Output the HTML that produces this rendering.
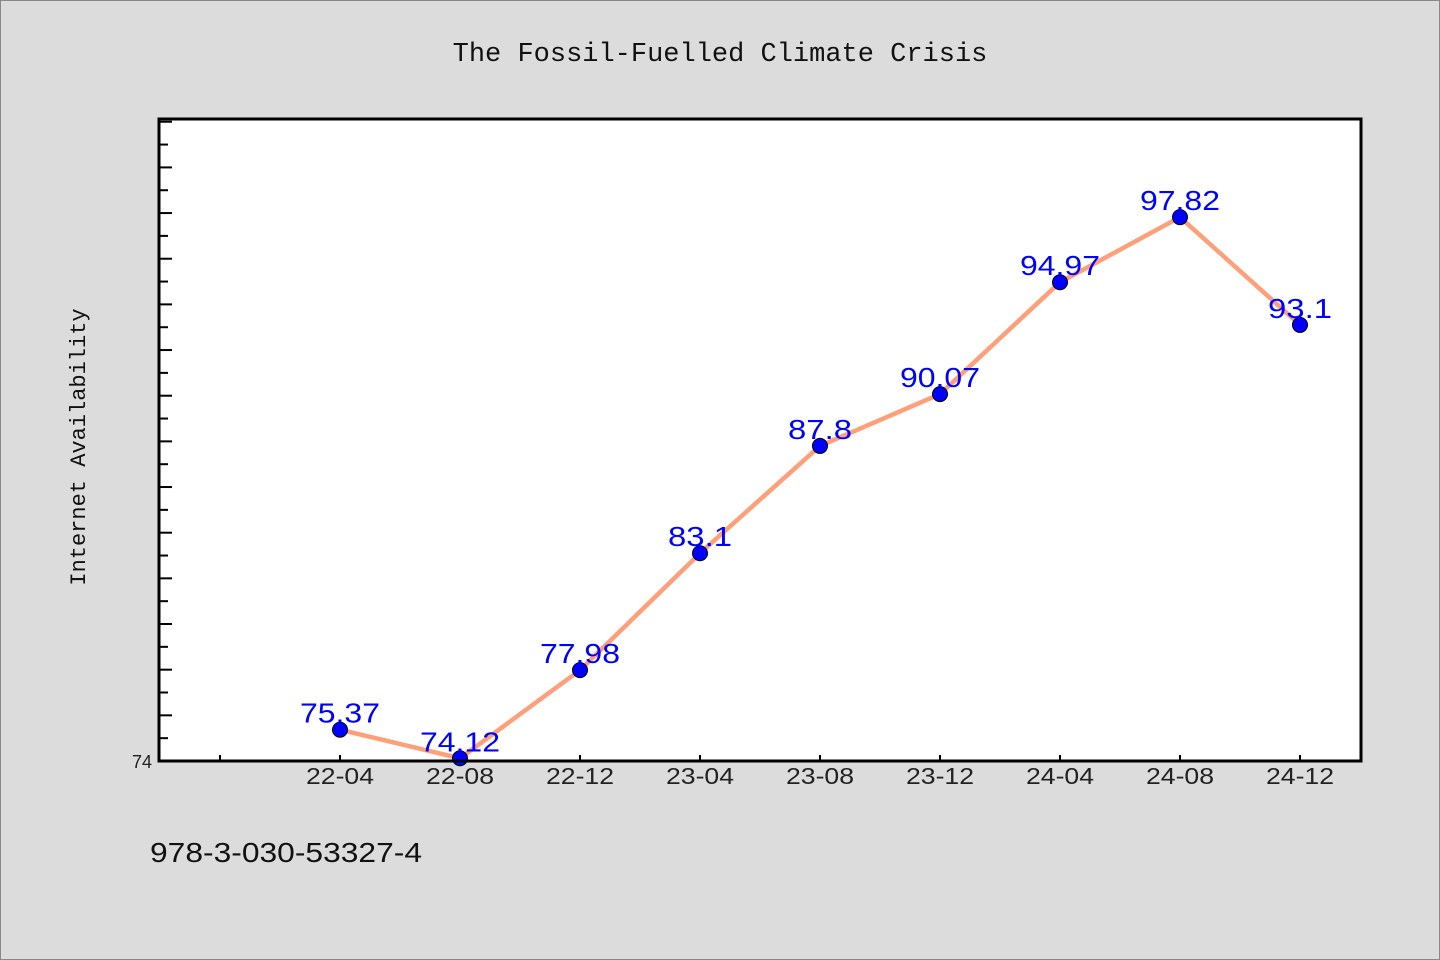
<!DOCTYPE html>
<html><head><meta charset="utf-8"><style>
html,body{margin:0;padding:0;background:#dcdcdc;}
svg{display:block;font-family:"Liberation Sans",sans-serif;}
</style></head><body>
<svg width="1440" height="960">
<rect x="0.5" y="0.5" width="1439" height="959" fill="#dcdcdc" stroke="#888"/>
<text x="720" y="61" text-anchor="middle" font-family="Liberation Mono, monospace" font-size="27" fill="#111">The Fossil-Fuelled Climate Crisis</text>
<text transform="translate(85,447) rotate(-90)" text-anchor="middle" font-family="Liberation Mono, monospace" font-size="22" fill="#111">Internet Availability</text>
<rect x="159" y="119" width="1202" height="642" fill="#fff"/>
<g id="ticks"></g>
<polyline id="line" fill="none" stroke="#ffa07a" stroke-width="4.5"/>
<g id="marks"></g>
<rect x="159" y="119" width="1202" height="642" fill="none" stroke="#000" stroke-width="3"/>
<text x="150" y="862" font-size="28" textLength="272" lengthAdjust="spacingAndGlyphs" fill="#111">978-3-030-53327-4</text>
</svg>
<script>
const categories=["22-04","22-08","22-12","23-04","23-08","23-12","24-04","24-08","24-12"];
const values=[75.37,74.12,77.98,83.1,87.8,90.07,94.97,97.82,93.1];
const valueLabels=["75.37","74.12","77.98","83.1","87.8","90.07","94.97","97.82","93.1"];
const yMin=74,yMax=102.12;
const ns="http://www.w3.org/2000/svg";
function xs(i){return 340+(i)*120;}
function ys(v){return 761-(v-yMin)/(yMax-yMin)*642;}
function mk(t,a,p){const e=document.createElementNS(ns,t);for(const k in a)e.setAttribute(k,a[k]);p.appendChild(e);return e;}
const tg=document.getElementById('ticks'),mg=document.getElementById('marks');
for(let v=75;v<yMax;v++){const y=ys(v);const l=mk('line',{x1:159,x2:(v%2==0)?172:168,y1:y,y2:y,stroke:'#000','stroke-width':2},tg);

}
const t0=mk('text',{x:152,y:768,'text-anchor':'end','font-size':18,fill:'#222'},tg);t0.textContent="74";


for(let i=-1;i<categories.length;i++){const x=xs(i);const l=mk('line',{x1:x,x2:x,y1:761,y2:755,stroke:'#000','stroke-width':2},tg);


if(i>=0){const t=mk('text',{x:x,y:784,'text-anchor':'middle','font-size':23,textLength:68,lengthAdjust:'spacingAndGlyphs',fill:'#222'},tg);t.textContent=categories[i];

}}
document.getElementById('line').setAttribute('points',values.map((v,i)=>xs(i)+','+ys(v)).join(' '));
values.forEach((v,i)=>{const c=mk('circle',{cx:xs(i),cy:ys(v),r:7.5,fill:'#0000ff',stroke:'#000','stroke-width':1},mg);


const w=valueLabels[i].length*16;
const t=mk('text',{x:xs(i),y:ys(v)-7,'text-anchor':'middle','font-size':28,textLength:w,lengthAdjust:'spacingAndGlyphs',fill:'#0000ff'},mg);t.textContent=valueLabels[i];

});
</script>
</body></html>
